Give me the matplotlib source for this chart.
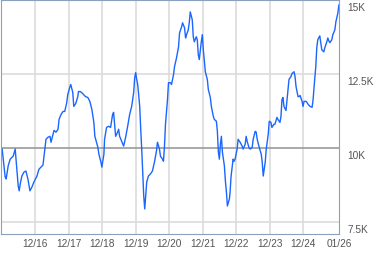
import numpy as np
import matplotlib.pyplot as plt
import matplotlib.transforms as mtrans

# values (decimal year, value in thousands)
years = [2015.93, 2016.02, 2016.05, 2016.11, 2016.17, 2016.26, 2016.32, 2016.41, 2016.44, 2016.47,
         2016.52, 2016.58, 2016.64, 2016.70, 2016.76, 2016.82, 2016.88, 2016.97, 2017.03, 2017.15,
         2017.18, 2017.24, 2017.30, 2017.36, 2017.39, 2017.45, 2017.48, 2017.54, 2017.60, 2017.63,
         2017.69, 2017.75, 2017.80, 2017.86, 2017.89, 2017.95, 2017.98, 2018.04, 2018.07, 2018.13,
         2018.19, 2018.21, 2018.27, 2018.33, 2018.42, 2018.49, 2018.55, 2018.61, 2018.67, 2018.70,
         2018.79, 2018.82, 2018.88, 2018.91, 2018.97, 2018.99, 2019.05, 2019.11, 2019.17, 2019.23,
         2019.26, 2019.29, 2019.32, 2019.38, 2019.41, 2019.44, 2019.50, 2019.56, 2019.62, 2019.68,
         2019.74, 2019.80, 2019.86, 2019.89, 2019.92, 2019.95, 2019.98, 2020.04, 2020.07, 2020.10,
         2020.13, 2020.16, 2020.19, 2020.22, 2020.25, 2020.30, 2020.36, 2020.42, 2020.48, 2020.54,
         2020.57, 2020.63, 2020.66, 2020.72, 2020.75, 2020.78, 2020.81, 2020.87, 2020.90, 2020.96,
         2020.99, 2021.05, 2021.08, 2021.14, 2021.20, 2021.23, 2021.29, 2021.32, 2021.38, 2021.41,
         2021.44, 2021.49, 2021.52, 2021.55, 2021.61, 2021.64, 2021.67, 2021.73, 2021.76, 2021.79,
         2021.82, 2021.88, 2021.91, 2021.94, 2022.00, 2022.06, 2022.09, 2022.15, 2022.18, 2022.24,
         2022.27, 2022.33, 2022.36, 2022.39, 2022.42, 2022.45, 2022.48, 2022.51, 2022.57, 2022.60,
         2022.63, 2022.66, 2022.72, 2022.74, 2022.77, 2022.83, 2022.86, 2022.89, 2022.95, 2022.98,
         2023.04, 2023.10, 2023.13, 2023.19, 2023.22, 2023.25, 2023.31, 2023.34, 2023.40, 2023.43,
         2023.49, 2023.52, 2023.55, 2023.61, 2023.67, 2023.70, 2023.73, 2023.79, 2023.82, 2023.88,
         2023.91, 2023.96, 2023.99, 2024.05, 2024.08, 2024.14, 2024.17, 2024.23, 2024.26, 2024.29,
         2024.32, 2024.35, 2024.41, 2024.47, 2024.50, 2024.56, 2024.59, 2024.65, 2024.68, 2024.71,
         2024.77, 2024.80, 2024.83, 2024.89, 2024.92, 2024.95, 2025.01, 2025.04, 2025.07, 2025.13,
         2025.19, 2025.22, 2025.25, 2025.30, 2025.33, 2025.36, 2025.42, 2025.45, 2025.48, 2025.54,
         2025.57, 2025.63, 2025.66, 2025.69, 2025.72, 2025.78, 2025.81, 2025.87, 2025.90, 2025.96,
         2025.99]
values = [9.97, 9.03, 8.96, 9.40, 9.63, 9.73, 9.97, 8.72, 8.56, 8.79,
          9.06, 9.19, 9.23, 8.96, 8.56, 8.69, 8.86, 9.06, 9.29, 9.43,
          9.73, 10.30, 10.37, 10.40, 10.20, 10.47, 10.60, 10.54, 10.64, 10.97,
          11.14, 11.24, 11.24, 11.54, 11.81, 12.05, 12.15, 11.88, 11.41, 11.51,
          11.74, 11.91, 11.91, 11.85, 11.74, 11.71, 11.58, 11.31, 10.87, 10.40,
          10.03, 9.80, 9.53, 9.36, 9.80, 10.30, 10.70, 10.74, 10.70, 11.14,
          11.21, 10.81, 10.40, 10.54, 10.64, 10.40, 10.23, 10.07, 10.37, 10.74,
          11.14, 11.41, 11.88, 12.38, 12.55, 12.32, 12.15, 11.41, 10.64, 9.97,
          9.19, 8.39, 7.95, 8.39, 8.86, 9.06, 9.13, 9.23, 9.53, 9.90,
          10.20, 9.97, 9.73, 9.63, 9.56, 10.07, 10.81, 11.64, 12.21, 12.21,
          12.15, 12.48, 12.75, 13.05, 13.42, 13.89, 14.09, 14.23, 14.06, 13.72,
          13.83, 13.99, 14.23, 14.60, 14.33, 13.76, 13.59, 13.76, 13.66, 13.15,
          12.99, 13.59, 13.83, 13.32, 12.58, 12.32, 11.98, 11.71, 11.41, 11.07,
          10.97, 10.91, 10.57, 9.87, 9.63, 10.13, 10.40, 9.87, 9.40, 8.89,
          8.52, 8.05, 8.29, 8.52, 9.06, 9.63, 9.56, 9.63, 9.97, 10.30,
          10.20, 10.07, 9.97, 10.13, 10.40, 10.23, 10.00, 9.97, 10.03, 10.30,
          10.57, 10.54, 10.30, 10.03, 9.80, 9.53, 9.06, 9.53, 9.97, 10.47,
          10.91, 10.87, 10.70, 10.81, 10.81, 11.04, 10.97, 10.87, 11.07, 11.64,
          11.71, 11.41, 11.27, 11.98, 12.32, 12.42, 12.52, 12.58, 12.42, 12.08,
          11.74, 11.74, 11.78, 11.58, 11.41, 11.58, 11.58, 11.54, 11.48, 11.41,
          11.38, 11.64, 12.08, 12.75, 13.39, 13.66, 13.79, 13.56, 13.32, 13.25,
          13.39, 13.59, 13.72, 13.62, 13.56, 13.66, 13.83, 13.99, 14.26, 14.56,
          14.83]

ytick_vals = [7.5, 10, 12.5, 15]
ytick_labels = ["7.5K", "10K", "12.5K", "15K"]
xtick_vals = [2016.92, 2017.92, 2018.92, 2019.92, 2020.92, 2021.92, 2022.92, 2023.92, 2024.92, 2026.0]
xtick_labels = ["12/16", "12/17", "12/18", "12/19", "12/20", "12/21", "12/22", "12/23", "12/24", "01/26"]

plt.rcParams['font.family'] = ['Liberation Sans', 'DejaVu Sans']

fig = plt.figure(figsize=(3.79, 2.55), dpi=100)
ax = fig.add_axes([0.003, 0.078, 0.892, 0.918])
ax.plot(years, values, color="#1a66ff", lw=1.0)
ax.set_xlim(2015.9, 2026.0)
ax.set_ylim(7.1, 15.0)

for xv in xtick_vals[:-1]:
    ax.axvline(xv, color="#dcdcdc", lw=1.2, zorder=0)
for yv in ytick_vals:
    if yv == 10:
        ax.axhline(yv, color="#999999", lw=1.2, zorder=0)
    else:
        ax.axhline(yv, color="#dcdcdc", lw=1.2, zorder=0)

ax.yaxis.tick_right()
ax.set_yticks(ytick_vals)
ax.set_yticklabels(ytick_labels)
ax.set_xticks(xtick_vals)
ax.set_xticklabels(xtick_labels)
ax.tick_params(length=0, labelsize=7.3, labelcolor="#555555")
ax.tick_params(axis="x", pad=3)
ax.tick_params(axis="y", pad=6)
shift = mtrans.ScaledTranslation(0, -2 / 100, fig.dpi_scale_trans)
for lab in ax.get_yticklabels():
    lab.set_verticalalignment("top")
    lab.set_transform(lab.get_transform() + shift)
for sp in ax.spines.values():
    sp.set_color("#8aa0bf")

fig.savefig("out.png", dpi=100)
